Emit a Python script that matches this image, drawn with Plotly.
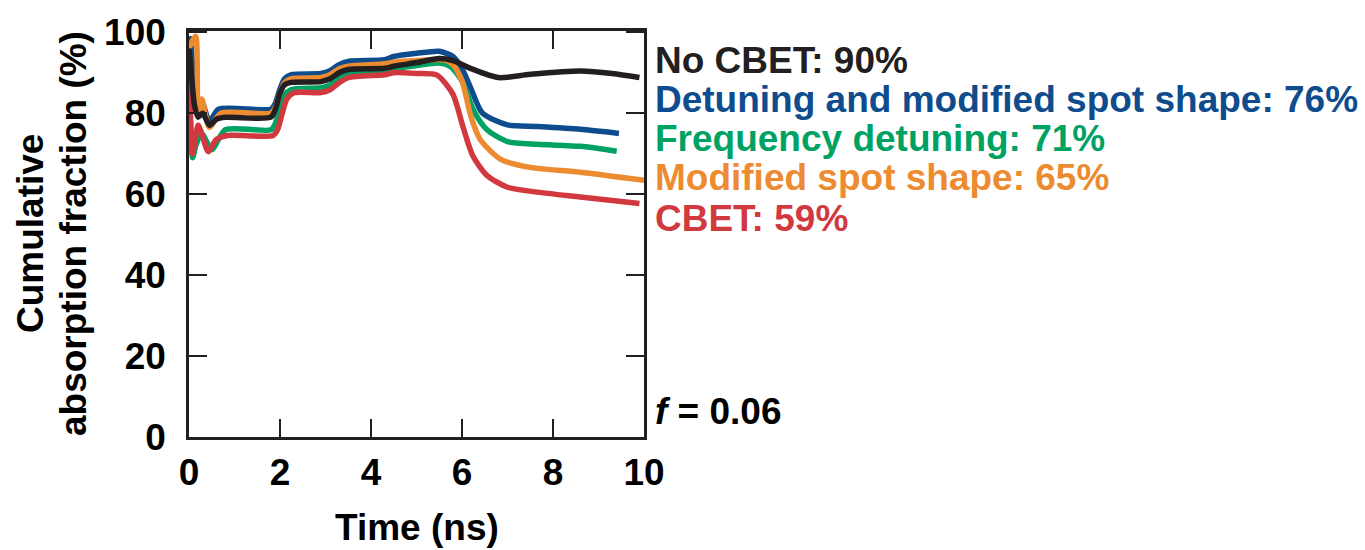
import plotly.graph_objects as go

# Cumulative absorption fraction (%) vs time (ns) for each beam configuration
t_no_cbet = [0, 0.05, 0.12, 0.2, 0.3, 0.45, 0.6, 0.8, 1.8, 1.9, 2.0, 2.1, 2.25, 2.9, 3.1, 3.3,
             3.5, 4.3, 4.5, 5.0, 5.5, 5.8, 6.2, 6.8, 7.5, 8.6, 9.3, 9.9]
v_no_cbet = [96, 90, 82, 79, 80, 77, 78.5, 79, 79, 81, 85, 87, 87.6, 87.8, 88.5, 90,
             90.8, 91.1, 91.6, 92.5, 93.5, 93, 91, 88.8, 89.6, 90.4, 89.8, 88.8]

t_detune_spot = [0, 0.05, 0.12, 0.2, 0.28, 0.45, 0.65, 1.8, 1.9, 2.0, 2.1, 2.25, 2.9, 3.1, 3.3,
                 3.5, 4.3, 4.5, 5.0, 5.5, 5.8, 6.0, 6.2, 6.45, 7.0, 7.65, 8.6, 9.45]
v_detune_spot = [99, 96, 85, 80, 83, 78, 81, 81, 82.5, 86, 88.5, 89.5, 89.8, 90.5, 92,
                 92.8, 93.2, 94, 94.8, 95.3, 94, 91, 86, 80, 77.1, 76.7, 76, 75]

t_detune = [0, 0.08, 0.15, 0.28, 0.5, 0.8, 1.8, 1.9, 2.0, 2.1, 2.25, 2.9, 3.1, 3.3, 3.5,
            4.3, 4.5, 5.0, 5.5, 5.75, 6.0, 6.25, 6.55, 7.0, 7.65, 8.6, 9.4]
v_detune = [96, 69, 72, 75, 71, 75.9, 75.9, 77.5, 81, 84.5, 85.8, 86.3, 87, 88.8, 89.6,
            90.5, 91, 91.8, 92.4, 91.5, 88, 80.8, 75.9, 73, 72.3, 71.8, 70.6]

t_spot = [0, 0.08, 0.15, 0.2, 0.28, 0.45, 0.7, 1.8, 1.9, 2.0, 2.1, 2.25, 2.9, 3.1, 3.3, 3.5,
          4.3, 4.5, 5.0, 5.6, 5.8, 6.0, 6.2, 6.4, 6.85, 7.5, 8.6, 10]
v_spot = [96, 98, 99, 80, 83.5, 76.5, 80, 80, 81.5, 85, 87.5, 88.5, 88.8, 89.5, 91, 91.6,
          92.2, 92.6, 93, 93.2, 92, 88, 79, 73.5, 68.6, 66.6, 65.4, 63.4]

t_cbet = [0, 0.08, 0.2, 0.28, 0.42, 0.6, 0.85, 1.85, 1.95, 2.05, 2.15, 2.3, 2.9, 3.1, 3.3,
          3.5, 4.3, 4.5, 5.0, 5.45, 5.8, 6.02, 6.24, 6.55, 7.0, 7.65, 8.6, 9.9]
v_cbet = [95, 70, 77, 75, 70.5, 73.5, 74.5, 74.5, 76, 80, 83.5, 85, 85.1, 85.8, 87.5,
          88.8, 89.5, 90, 89.8, 89.4, 84.7, 76.7, 69.4, 64.6, 61.7, 60.5, 59.3, 57.7]

x_ticks = [0, 2, 4, 6, 8, 10]
y_ticks = [0, 20, 40, 60, 80, 100]

labels = ["No CBET: 90%", "Detuning and modified spot shape: 76%", "Frequency detuning: 71%",
          "Modified spot shape: 65%", "CBET: 59%"]

BLACK = "#231f20"
BLUE = "#0e4c8e"
GREEN = "#00a263"
ORANGE = "#ec8b2f"
RED = "#d2393f"

FONT = "Liberation Sans, Arial, sans-serif"
FS = 37

fig = go.Figure()

# drawing order: blue, green, red, orange, black on top
series = [
    (t_detune_spot, v_detune_spot, BLUE),
    (t_detune, v_detune, GREEN),
    (t_cbet, v_cbet, RED),
    (t_spot, v_spot, ORANGE),
    (t_no_cbet, v_no_cbet, BLACK),
]
for tx, vy, col in series:
    fig.add_trace(go.Scatter(
        x=tx, y=vy, mode="lines",
        line=dict(color=col, width=5.5, shape="spline", smoothing=0.7),
        showlegend=False, hoverinfo="skip",
    ))

axis_common = dict(
    showline=True, linecolor=BLACK, linewidth=2.5, mirror="ticks",
    ticks="inside", ticklen=18, tickwidth=2, tickcolor=BLACK,
    showgrid=False, zeroline=False,
    tickfont=dict(family=FONT, size=FS, color="#000000", weight="bold"),
)

fig.update_xaxes(range=[0, 10], tickvals=x_ticks, ticktext=[str(v) for v in x_ticks],
                 ticklabelstandoff=1, **axis_common)
fig.update_yaxes(range=[0, 100.3], tickvals=y_ticks, ticktext=[str(v) for v in y_ticks],
                 ticklabelstandoff=13, **axis_common)

title_font = dict(family=FONT, size=FS, color="#000000", weight="bold")
annotations = []
# axis titles
annotations.append(dict(text="Time (ns)", xref="paper", yref="paper", x=0.5, y=0,
                        yshift=-90, xanchor="center", yanchor="middle", showarrow=False,
                        font=title_font))
annotations.append(dict(text="Cumulative", xref="paper", yref="paper", x=0, y=0.5,
                        xshift=-159, xanchor="center", yanchor="middle", textangle=-90,
                        showarrow=False, font=title_font))
annotations.append(dict(text="absorption fraction (%)", xref="paper", yref="paper", x=0, y=0.5,
                        xshift=-116, xanchor="center", yanchor="middle", textangle=-90,
                        showarrow=False, font=title_font))

# series labels to the right of the plot
label_colors = [BLACK, BLUE, GREEN, ORANGE, RED]
label_px = [59, 98.5, 138.5, 178.5, 220]
for txt, col, py in zip(labels, label_colors, label_px):
    annotations.append(dict(text=txt, xref="paper", yref="paper", x=1, y=(437 - py) / 414,
                            xshift=9, yshift=6, xanchor="left", yanchor="middle",
                            showarrow=False,
                            font=dict(family=FONT, size=FS, color=col, weight="bold")))

annotations.append(dict(text="<i>f</i> = 0.06", xref="paper", yref="paper", x=1,
                        y=(437 - 411) / 414, xshift=9, xanchor="left", yanchor="middle",
                        showarrow=False, font=title_font))

fig.update_layout(
    width=1365, height=550,
    margin=dict(l=189, r=721, t=23, b=113),
    paper_bgcolor="white", plot_bgcolor="white",
    annotations=annotations,
)

fig.write_html("out.html")
